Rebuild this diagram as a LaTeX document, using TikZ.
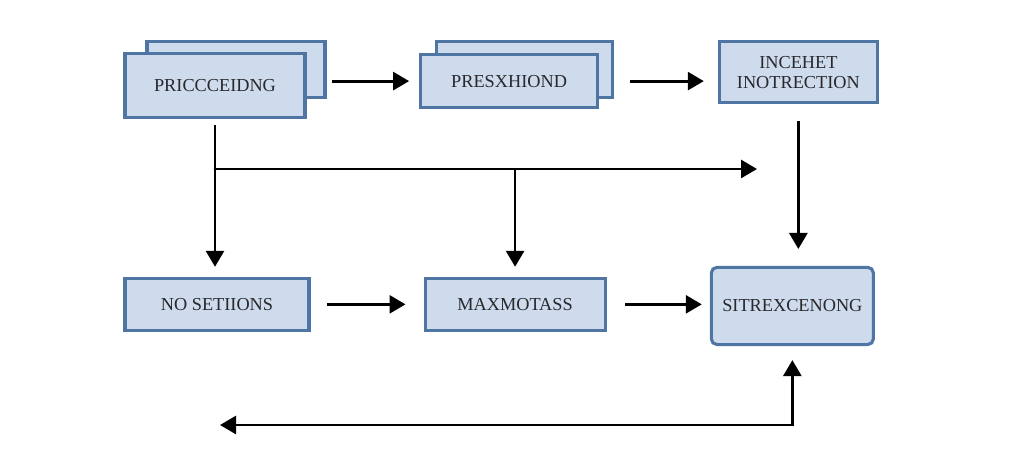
\documentclass[tikz,border=0pt]{standalone}
\usepackage{fontspec}
\setmainfont{Liberation Serif}
\usetikzlibrary{arrows.meta}
\definecolor{boxfill}{RGB}{206,219,236}
\definecolor{boxline}{RGB}{79,117,163}
\definecolor{boxtext}{RGB}{40,40,45}
\begin{document}
\begin{tikzpicture}[x=0.025cm, y=-0.025cm, node distance=7.35cm,
	box/.style={draw=boxline, fill=boxfill, line width=2.2pt, text=boxtext,
		font=\fontsize{13}{14.5}\selectfont, align=center, inner sep=2pt},
	flow/.style={line width=2pt, -{Triangle[length=0.4cm, width=0.45cm]}}]
	\useasboundingbox (0,0) rectangle (1024,471);

	% stacked boxes behind the first two steps
	\node (prcback) [box, minimum width=4.45cm, minimum height=1.38cm] at (236,69.5) {};
	\node (preback) [box, minimum width=4.38cm, minimum height=1.38cm] at (524.5,69.5) {};

	\node (prc) [box, minimum width=4.5cm, minimum height=1.62cm] at (215,85.5) {PRICCCEIDNG};
	\node (pre) [box, right of=prc, yshift=0.11cm, minimum width=4.42cm, minimum height=1.33cm] {PRESXHIOND};
	\node (ins) [box, right of=pre, xshift=-0.12cm, yshift=0.22cm, minimum width=3.95cm, minimum height=1.53cm] {INCEHET\\INOTRECTION};
	\node (nos) [box, node distance=5.47cm, below of=prc, xshift=0.05cm, minimum width=4.6cm, minimum height=1.3cm] {NO SETIIONS};
	\node (mnt) [box, right of=nos, xshift=0.1cm, minimum width=4.5cm, minimum height=1.3cm] {MAXMOTASS};
	\node (sit) [box, right of=mnt, xshift=-0.42cm, yshift=-0.04cm, rounded corners=4pt, minimum width=4.05cm, minimum height=1.93cm] {SITREXCENONG};

	\coordinate (fork) at (prc.south |- 0,169);
	\coordinate (forkend) at (757,169);
	\coordinate (turn) at (sit.south |- 0,425);
	\coordinate (back) at (220,425);

	\draw[flow, shorten <=0.13cm, shorten >=0.25cm] (prcback.east |- pre.west) -- (pre.west);
	\draw[flow, shorten <=0.4cm, shorten >=0.35cm] (preback.east |- pre.west) -- (pre.west -| ins.west);
	\draw[flow, shorten <=0.4cm, shorten >=0.45cm] (nos.east) -- (mnt.west);
	\draw[flow, shorten <=0.47cm, shorten >=0.2cm] (mnt.east) -- (mnt.east -| sit.west);

	\draw[flow, shorten <=0.15cm, shorten >=0.25cm] (prc.south) -- (prc.south |- nos.north);
	\draw[flow, line cap=round] (fork) -- (forkend);
	\draw[flow, shorten >=0.25cm] (fork -| mnt.north) -- (mnt.north);
	\draw[flow, shorten <=0.42cm, shorten >=0.42cm] (ins.south) -- (ins.south |- sit.north);
	\draw[flow, {Triangle[length=0.4cm, width=0.45cm]}-{Triangle[length=0.4cm, width=0.45cm]}, shorten >=0.35cm] (back) -- (turn) -- (sit.south);
\end{tikzpicture}
\end{document}
